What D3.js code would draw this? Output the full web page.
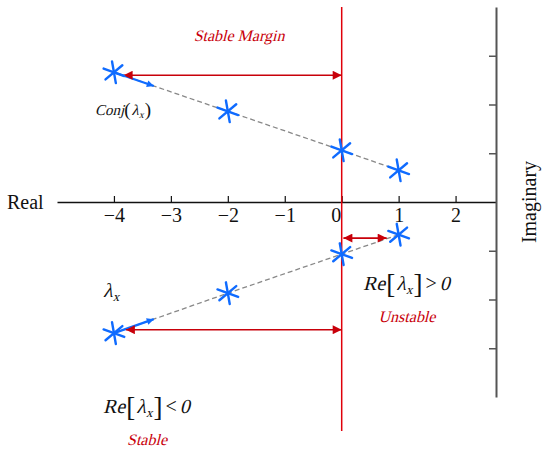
<!DOCTYPE html>
<html>
<head>
<meta charset="utf-8">
<script src="https://cdn.jsdelivr.net/npm/d3@7"></script>
<style>
  body { margin: 0; background: #fff; }
  svg text { font-family: "Liberation Serif", "Times New Roman", serif; }
</style>
</head>
<body>
<svg id="chart" width="550" height="453"></svg>
<script>
// eigenvalue path: real parts and imaginary parts
const realParts = [-4, -2, 0, 1];
const conjImag = [2.66, 1.86, 1.06, 0.65];
const lambdaImag = [-2.69, -1.87, -1.07, -0.67];

const xTicks = [-4, -3, -2, -1, 0, 1, 2];
const yTicks = [-3, -2, -1, 1, 2, 3];

// red margin arrows [fromRe, toRe, im]
const marginArrows = [
  [-3.83, 0, 2.6],
  [-3.79, 0, -2.62],
  [0.03, 0.79, -0.74]
];

const red = "#c8000a";
const blue = "#0f6bff";
const slant = -14;

const svg = d3.select("#chart");

const x = d3.scaleLinear().domain([-5, 2.71]).range([57, 496]);
const y = d3.scaleLinear().domain([-4, 4]).range([397, 7]);

const defs = svg.append("defs");
const addMarker = (id, color, w, h) => {
  defs.append("marker")
    .attr("id", id)
    .attr("viewBox", "0 0 10 10")
    .attr("refX", 10).attr("refY", 5)
    .attr("markerUnits", "userSpaceOnUse")
    .attr("markerWidth", w).attr("markerHeight", h)
    .attr("orient", "auto-start-reverse")
    .append("path")
      .attr("d", "M0,0L10,5L0,10z")
      .attr("fill", color);
};
addMarker("redHead", red, 11, 9);
addMarker("blueHead", blue, 9, 7);

// x axis (Real)
const xAxis = svg.append("g")
  .attr("transform", `translate(0,${y(0)})`)
  .call(d3.axisBottom(x)
    .tickValues(xTicks)
    .tickSizeInner(-6)
    .tickSizeOuter(0)
    .tickPadding(6));
xAxis.select(".domain").attr("stroke", "#111").attr("stroke-width", 1.4);
xAxis.selectAll(".tick line").attr("stroke", "#111").attr("stroke-width", 1.2);
xAxis.selectAll(".tick text")
  .attr("font-size", 20)
  .attr("fill", "#111")
  .attr("dx", d => d === 0 ? -6 : 0);

// imaginary axis on the right
const yAxis = svg.append("g")
  .attr("transform", `translate(${x.range()[1]},0)`)
  .call(d3.axisLeft(y)
    .tickValues(yTicks)
    .tickFormat("")
    .tickSizeInner(7)
    .tickSizeOuter(0));
yAxis.select(".domain").attr("stroke", "#555").attr("stroke-width", 2);
yAxis.selectAll(".tick line").attr("stroke", "#555").attr("stroke-width", 1.5);

svg.append("text")
  .attr("x", 7).attr("y", 209)
  .attr("font-size", 20)
  .attr("fill", "#111")
  .text("Real");

svg.append("text")
  .attr("transform", `translate(536,${y(0)}) rotate(-90)`)
  .attr("text-anchor", "middle")
  .attr("font-size", 20)
  .attr("fill", "#111")
  .text("Imaginary");

// stability boundary
svg.append("line")
  .attr("x1", x(0)).attr("x2", x(0))
  .attr("y1", 7).attr("y2", 431)
  .attr("stroke", "#e0000a")
  .attr("stroke-width", 1.5);

// dashed eigenvalue paths
const line = d3.line()
  .x((d, i) => x(realParts[i]))
  .y(d => y(d));

[conjImag, lambdaImag].forEach(series => {
  svg.append("path")
    .datum(series)
    .attr("d", line)
    .attr("fill", "none")
    .attr("stroke", "#888")
    .attr("stroke-width", 1.3)
    .attr("stroke-dasharray", "5,3");

  // blue direction arrow from first point toward the next
  const x0 = x(realParts[0]), y0 = y(series[0]);
  const x1 = x(realParts[1]), y1 = y(series[1]);
  const t = 0.35;
  svg.append("line")
    .attr("x1", x0).attr("y1", y0)
    .attr("x2", x0 + (x1 - x0) * t).attr("y2", y0 + (y1 - y0) * t)
    .attr("stroke", blue)
    .attr("stroke-width", 2.2)
    .attr("marker-end", "url(#blueHead)");
});

// red margin arrows
svg.selectAll(".margin")
  .data(marginArrows)
  .join("line")
    .attr("class", "margin")
    .attr("x1", d => x(d[0])).attr("x2", d => x(d[1]))
    .attr("y1", d => y(d[2])).attr("y2", d => y(d[2]))
    .attr("stroke", red)
    .attr("stroke-width", 1.6)
    .attr("marker-start", "url(#redHead)")
    .attr("marker-end", "url(#redHead)");

// asterisk markers
const starAngles = [80, 20, -40];
const points = [];
realParts.forEach((re, i) => {
  points.push([re, conjImag[i]]);
  points.push([re, lambdaImag[i]]);
});
const stars = svg.selectAll(".star")
  .data(points)
  .join("g")
    .attr("class", "star")
    .attr("transform", d => `translate(${x(d[0])},${y(d[1])})`);
starAngles.forEach(a => {
  const r = 11;
  const rad = a * Math.PI / 180;
  stars.append("line")
    .attr("x1", -r * Math.cos(rad)).attr("y1", -r * Math.sin(rad))
    .attr("x2", r * Math.cos(rad)).attr("y2", r * Math.sin(rad))
    .attr("stroke", blue)
    .attr("stroke-width", 2.4)
    .attr("stroke-linecap", "round");
});

// slanted serif text (italic face is not available, so skew the upright one)
const italicText = (text, cx, by, size, color, anchor) => svg.append("text")
  .attr("transform", `translate(${cx},${by}) skewX(${slant})`)
  .attr("text-anchor", anchor || "start")
  .attr("font-size", size)
  .attr("fill", color)
  .text(text);

// red labels
italicText("Stable Margin", 239, 41, 16, red, "middle");
italicText("Unstable", 407, 322, 16, red, "middle");
italicText("Stable", 147, 445, 16, red, "middle");

// lay out pieces of a math label one after another
const mathLabel = (pieces, sx, by) => {
  let cx = sx;
  pieces.forEach(p => {
    cx += p.dx || 0;
    const py = by + (p.dy || 0);
    const el = p.italic
      ? italicText(p.t, cx, py, p.size, "#111")
      : svg.append("text")
          .attr("x", cx).attr("y", py)
          .attr("font-size", p.size)
          .attr("fill", "#111")
          .text(p.t);
    cx += el.node().getComputedTextLength();
  });
};

mathLabel([
  { t: "Conj", size: 15, italic: true },
  { t: "(", size: 19, dy: 1 },
  { t: "λ", size: 15, italic: true, dx: 1 },
  { t: "x", size: 10, italic: true, dy: 3 },
  { t: ")", size: 19, dy: 1, dx: 1 }
], 95, 115);

mathLabel([
  { t: "λ", size: 20, italic: true },
  { t: "x", size: 13, italic: true, dy: 4 }
], 103, 297);

const reLabel = (sign, sx, by) => mathLabel([
  { t: "Re", size: 20, italic: true },
  { t: "[", size: 27, dy: 3, dx: 1 },
  { t: "λ", size: 20, italic: true, dx: 1 },
  { t: "x", size: 13, italic: true, dy: 4 },
  { t: "]", size: 27, dy: 3, dx: 1 },
  { t: sign, size: 20, dx: 3 },
  { t: "0", size: 20, italic: true, dx: 3 }
], sx, by);
reLabel(">", 363, 290);
reLabel("<", 103, 413);
</script>
</body>
</html>
